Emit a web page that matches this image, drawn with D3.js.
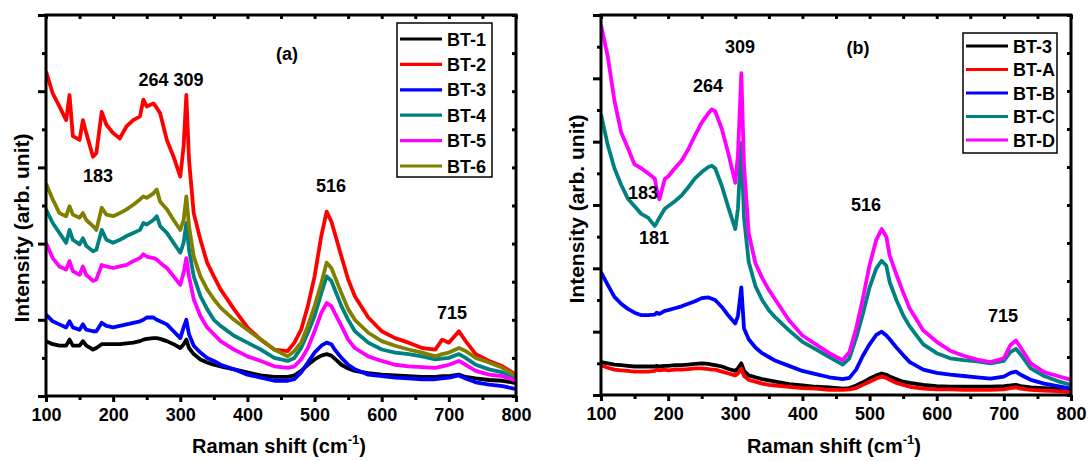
<!DOCTYPE html>
<html><head><meta charset="utf-8">
<script src="https://cdn.jsdelivr.net/npm/d3@7"></script>
<style>
body{margin:0;background:#fff;}
svg{display:block;font-family:Arial,"Liberation Sans",sans-serif;font-weight:bold;}
</style></head>
<body>
<svg id="chart" width="1089" height="461"></svg>
<script>
// ---------- Panel (a) data ----------
const shiftA = [100,110,120,130,135,140,150,155,160,170,175,183,190,200,210,220,230,240,245,250,260,265,270,280,290,300,305,309,313,320,330,340,350,360,380,400,420,440,460,470,480,490,500,510,518,525,530,540,550,560,580,600,620,640,660,680,690,700,715,725,740,760,780,800];
const seriesNamesA = ["BT-1","BT-2","BT-3","BT-4","BT-5","BT-6"];
const colorsA = ["#000000","#ff0000","#0000ff","#008080","#ff00ff","#808000"];
const bt1 = [0.72,0.68,0.66,0.66,0.74,0.66,0.66,0.72,0.66,0.61,0.63,0.68,0.68,0.68,0.68,0.69,0.70,0.72,0.74,0.75,0.76,0.76,0.75,0.72,0.68,0.63,0.68,0.74,0.63,0.55,0.48,0.44,0.41,0.39,0.35,0.31,0.27,0.25,0.25,0.27,0.33,0.41,0.48,0.53,0.55,0.53,0.49,0.41,0.36,0.33,0.30,0.28,0.27,0.26,0.25,0.25,0.26,0.26,0.28,0.25,0.23,0.21,0.20,0.17];
const bt2 = [4.26,3.97,3.80,3.62,3.95,3.41,3.36,3.62,3.45,3.14,3.19,3.73,3.56,3.45,3.38,3.54,3.62,3.67,3.89,3.80,3.84,3.78,3.71,3.36,3.14,2.88,3.28,3.95,3.10,2.40,2.05,1.75,1.57,1.40,1.14,0.90,0.74,0.61,0.59,0.70,0.87,1.18,1.57,2.10,2.42,2.29,2.14,1.83,1.53,1.31,1.03,0.85,0.76,0.70,0.63,0.61,0.74,0.70,0.85,0.72,0.55,0.46,0.39,0.28];
const bt3 = [1.07,0.98,0.94,0.90,0.98,0.90,0.87,0.94,0.87,0.85,0.85,0.96,0.92,0.90,0.92,0.94,0.96,0.98,1.00,1.03,1.03,1.00,0.98,0.94,0.85,0.76,0.90,1.00,0.81,0.66,0.57,0.50,0.46,0.41,0.35,0.28,0.24,0.20,0.20,0.22,0.31,0.44,0.57,0.66,0.70,0.68,0.61,0.50,0.41,0.35,0.28,0.26,0.24,0.23,0.22,0.22,0.23,0.24,0.27,0.23,0.18,0.15,0.13,0.09];
const bt4 = [2.45,2.27,2.14,2.01,2.18,2.05,1.99,2.07,1.97,1.90,1.92,2.18,2.05,2.01,2.05,2.10,2.14,2.18,2.27,2.25,2.31,2.36,2.23,2.14,2.01,1.88,2.01,2.27,1.92,1.57,1.31,1.14,1.00,0.92,0.79,0.70,0.61,0.50,0.46,0.50,0.63,0.83,1.05,1.35,1.57,1.51,1.40,1.18,1.00,0.85,0.70,0.61,0.57,0.55,0.52,0.48,0.49,0.50,0.55,0.50,0.41,0.35,0.31,0.22];
const bt5 = [2.01,1.81,1.70,1.66,1.77,1.64,1.59,1.70,1.59,1.51,1.53,1.72,1.70,1.68,1.70,1.72,1.77,1.81,1.86,1.83,1.81,1.79,1.75,1.68,1.57,1.46,1.62,1.81,1.57,1.27,1.05,0.90,0.81,0.72,0.61,0.52,0.46,0.39,0.37,0.39,0.48,0.63,0.85,1.09,1.22,1.18,1.09,0.92,0.74,0.63,0.52,0.46,0.41,0.39,0.38,0.37,0.39,0.41,0.46,0.41,0.33,0.28,0.26,0.20];
const bt6 = [2.79,2.58,2.40,2.36,2.49,2.38,2.34,2.40,2.31,2.23,2.18,2.47,2.38,2.36,2.40,2.45,2.51,2.58,2.62,2.60,2.66,2.71,2.55,2.45,2.31,2.18,2.31,2.62,2.23,1.83,1.57,1.40,1.27,1.16,1.00,0.87,0.74,0.61,0.52,0.59,0.70,0.92,1.18,1.48,1.75,1.68,1.57,1.35,1.14,1.00,0.83,0.72,0.66,0.61,0.57,0.52,0.55,0.57,0.63,0.59,0.50,0.44,0.37,0.26];

// ---------- Panel (b) data ----------
const shiftB = [100,110,120,130,140,150,160,170,180,183,187,195,200,210,220,230,240,250,260,265,270,280,290,300,304,309,313,320,330,340,350,360,380,400,420,440,460,470,480,490,500,510,518,525,530,540,550,560,580,600,620,640,660,680,700,710,718,725,740,760,780,800];
const seriesNamesB = ["BT-3","BT-A","BT-B","BT-C","BT-D"];
const colorsB = ["#000000","#ff0000","#0000ff","#008080","#ff00ff"];
const b3 = [0.52,0.50,0.48,0.47,0.46,0.45,0.45,0.45,0.45,0.46,0.45,0.46,0.46,0.47,0.47,0.48,0.49,0.50,0.49,0.48,0.47,0.45,0.41,0.38,0.42,0.50,0.38,0.31,0.28,0.25,0.23,0.21,0.17,0.15,0.13,0.12,0.10,0.11,0.15,0.20,0.26,0.31,0.34,0.32,0.29,0.25,0.21,0.19,0.16,0.14,0.13,0.13,0.13,0.13,0.14,0.15,0.16,0.14,0.12,0.11,0.10,0.08];
const bA = [0.47,0.43,0.40,0.39,0.38,0.37,0.37,0.37,0.38,0.40,0.39,0.40,0.39,0.40,0.40,0.41,0.42,0.42,0.41,0.40,0.40,0.37,0.34,0.31,0.34,0.42,0.30,0.24,0.21,0.18,0.16,0.15,0.13,0.11,0.10,0.08,0.08,0.09,0.11,0.16,0.21,0.26,0.29,0.27,0.24,0.19,0.16,0.13,0.10,0.09,0.09,0.08,0.08,0.08,0.09,0.11,0.12,0.10,0.08,0.07,0.06,0.05];
const bB = [1.94,1.74,1.55,1.44,1.36,1.30,1.26,1.26,1.27,1.30,1.28,1.33,1.34,1.37,1.40,1.44,1.48,1.53,1.54,1.52,1.50,1.39,1.25,1.13,1.25,1.70,1.05,0.88,0.75,0.66,0.60,0.54,0.46,0.38,0.33,0.28,0.25,0.27,0.40,0.62,0.80,0.95,1.00,0.94,0.88,0.75,0.63,0.52,0.40,0.35,0.32,0.30,0.28,0.26,0.29,0.35,0.37,0.32,0.24,0.18,0.14,0.10];
const bC = [4.43,3.95,3.58,3.32,3.10,2.98,2.86,2.80,2.67,2.72,2.80,2.94,2.98,3.06,3.15,3.28,3.42,3.52,3.60,3.62,3.58,3.30,2.95,2.62,2.95,3.98,2.80,2.10,1.72,1.50,1.34,1.22,1.02,0.84,0.72,0.60,0.48,0.58,0.90,1.28,1.70,2.00,2.12,2.04,1.78,1.50,1.26,1.08,0.80,0.66,0.58,0.55,0.53,0.50,0.54,0.68,0.73,0.64,0.42,0.30,0.22,0.16];
const bD = [5.84,5.35,4.65,4.15,3.90,3.64,3.58,3.50,3.42,3.25,3.09,3.41,3.45,3.58,3.70,3.88,4.10,4.30,4.45,4.51,4.48,4.20,3.80,3.35,3.80,5.08,3.62,2.55,2.08,1.85,1.66,1.50,1.18,0.94,0.80,0.66,0.55,0.68,1.05,1.52,2.05,2.45,2.62,2.50,2.20,1.90,1.62,1.36,1.02,0.84,0.70,0.62,0.56,0.52,0.58,0.79,0.86,0.75,0.50,0.36,0.30,0.24];

const xTicks = [100,200,300,400,500,600,700,800];
const xMinorTicks = [150,250,350,450,550,650,750];

// ---------- drawing ----------
const svg = d3.select("#chart");

function panel(opts){
  const {left,right,top,bottom,yMax,yLeftStep,yRightStep,names,colors,values,shift,legend,annotations,id,ytitleX,ytitleY} = opts;
  const g = svg.append("g");
  const x = d3.scaleLinear().domain([100,800]).range([left,right]);
  const y = d3.scaleLinear().domain([0,yMax]).range([bottom,top]);

  g.append("clipPath").attr("id","clip"+id).append("rect")
    .attr("x",left).attr("y",top).attr("width",right-left).attr("height",bottom-top);

  const line = d3.line().x((d,i)=>x(shift[i])).y(d=>y(d));
  const lines = g.append("g").attr("clip-path","url(#clip"+id+")");
  values.forEach((vals,k)=>{
    lines.append("path").datum(vals).attr("d",line)
      .attr("fill","none").attr("stroke",colors[k]).attr("stroke-width",3.8)
      .attr("stroke-linejoin","round");
  });

  // axes
  const bottomAx = g.append("g").attr("transform",`translate(0,${bottom})`)
    .call(d3.axisBottom(x).tickValues(xTicks).tickSize(6).tickPadding(6).tickFormat(d3.format("d")));
  g.append("g").attr("transform",`translate(0,${bottom})`)
    .call(d3.axisBottom(x).tickValues(xMinorTicks).tickSize(4).tickFormat(""));
  g.append("g").attr("transform",`translate(0,${top})`)
    .call(d3.axisBottom(x).tickValues(xTicks.concat(xMinorTicks)).tickSize(4).tickFormat(""));
  const nL = Math.round(yMax/yLeftStep);
  const leftVals = d3.range(0,nL+1).map(i=>i*yLeftStep);
  g.append("g").attr("transform",`translate(${left},0)`)
    .call(d3.axisLeft(y).tickValues(leftVals.filter((d,i)=>i%2===0)).tickSize(8).tickFormat(""));
  g.append("g").attr("transform",`translate(${left},0)`)
    .call(d3.axisLeft(y).tickValues(leftVals.filter((d,i)=>i%2===1)).tickSize(4).tickFormat(""));
  const nR = Math.round(yMax/yRightStep);
  const rightVals = d3.range(0,nR+1).map(i=>i*yRightStep);
  g.append("g").attr("transform",`translate(${right},0)`)
    .call(d3.axisRight(y).tickValues(rightVals).tickSize(-4).tickFormat(""));

  g.selectAll(".domain").remove();
  g.selectAll(".tick line").attr("stroke","#000").attr("stroke-width",3);
  bottomAx.selectAll(".tick text").attr("font-size",18).attr("font-weight","bold")
    .attr("fill","#000").attr("font-family","Arial, 'Liberation Sans', sans-serif");
  // frame
  g.append("rect").attr("x",left).attr("y",top).attr("width",right-left).attr("height",bottom-top)
    .attr("fill","none").attr("stroke","#000").attr("stroke-width",3);

  // axis titles
  const xt = g.append("text").attr("x",(left+right)/2-2).attr("y",453).attr("text-anchor","middle")
    .attr("font-size",20);
  xt.append("tspan").text("Raman shift (cm");
  xt.append("tspan").attr("font-size",13).attr("dy",-9).text("-1");
  xt.append("tspan").attr("dy",9).text(")");
  g.append("text").attr("transform",`translate(${ytitleX},${ytitleY}) rotate(-90)`)
    .attr("text-anchor","middle").attr("font-size",21).text("Intensity (arb. unit)");

  // annotations
  annotations.forEach(a=>{
    g.append("text").attr("x",a.x).attr("y",a.y+6).attr("text-anchor","middle")
      .attr("font-size",18).text(a.t);
  });

  // legend
  const lg = g.append("g");
  lg.append("rect").attr("x",legend.x).attr("y",legend.y).attr("width",legend.w).attr("height",legend.h)
    .attr("fill","#fff").attr("stroke","#000").attr("stroke-width",1.5);
  names.forEach((n,k)=>{
    const yy = legend.y + legend.first + k*legend.step;
    lg.append("line").attr("x1",legend.x+3).attr("x2",legend.x+45).attr("y1",yy).attr("y2",yy)
      .attr("stroke",colors[k]).attr("stroke-width",3.2);
    lg.append("text").attr("x",legend.x+50).attr("y",yy+6.5).attr("font-size",18).text(n);
  });
}

panel({id:"a",left:46,right:516,top:15,bottom:396,yMax:5,yLeftStep:0.5,yRightStep:0.5,
  names:seriesNamesA,colors:colorsA,values:[bt1,bt2,bt3,bt4,bt5,bt6],shift:shiftA,
  legend:{x:397,y:23,w:95,h:154,first:16,step:25.4},
  ytitleX:29,ytitleY:228,
  annotations:[{x:287,y:54,t:"(a)"},{x:171,y:80,t:"264 309"},{x:98,y:176,t:"183"},
               {x:331,y:186,t:"516"},{x:452,y:313,t:"715"}]});

panel({id:"b",left:601,right:1071,top:15,bottom:395,yMax:6,yLeftStep:0.5,yRightStep:0.6,
  names:seriesNamesB,colors:colorsB,values:[b3,bA,bB,bC,bD],shift:shiftB,
  legend:{x:963,y:33,w:94,h:120,first:13,step:23.5},
  ytitleX:584,ytitleY:209,
  annotations:[{x:858,y:48,t:"(b)"},{x:740,y:47,t:"309"},{x:708,y:86,t:"264"},
               {x:643,y:193,t:"183"},{x:654,y:238,t:"181"},{x:866,y:205,t:"516"},{x:1003,y:316,t:"715"}]});
</script>
</body></html>
